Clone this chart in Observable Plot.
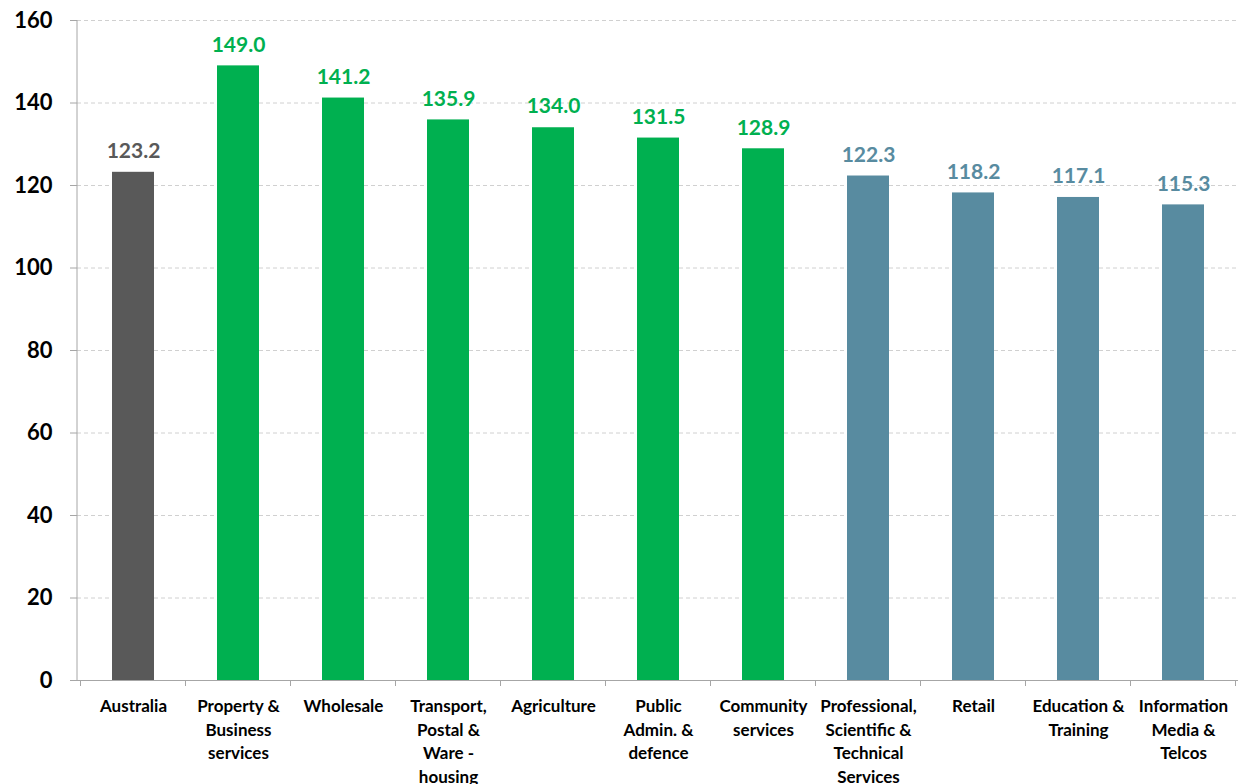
<!DOCTYPE html>
<html>
<head>
<meta charset="utf-8">
<script src="https://cdn.jsdelivr.net/npm/d3@7"></script>
<script src="https://cdn.jsdelivr.net/npm/@observablehq/plot@0.6"></script>
<style>
  html, body { margin: 0; padding: 0; background: #fff; }
</style>
</head>
<body>
<div id="chart"></div>
<script>
const categories = ["Australia", "Property & Business services", "Wholesale", "Transport, Postal & Ware - housing", "Agriculture", "Public Admin. & defence", "Community services", "Professional, Scientific & Technical Services", "Retail", "Education & Training", "Information Media & Telcos"];
const tickLabels = ["Australia", "Property &\nBusiness\nservices", "Wholesale", "Transport,\nPostal &\nWare -\nhousing", "Agriculture", "Public\nAdmin. &\ndefence", "Community\nservices", "Professional,\nScientific &\nTechnical\nServices", "Retail", "Education &\nTraining", "Information\nMedia &\nTelcos"];
const values = [123.2, 149.0, 141.2, 135.9, 134.0, 131.5, 128.9, 122.3, 118.2, 117.1, 115.3];
const groups = ["Australia", "High", "High", "High", "High", "High", "High", "Low", "Low", "Low", "Low"];
const yTicks = [0, 20, 40, 60, 80, 100, 120, 140, 160];

const data = categories.map((c, i) => ({category: c, value: values[i], group: groups[i]}));
const labelOf = new Map(categories.map((c, i) => [c, tickLabels[i]]));

const axisGray = "#a6a6a6";

const boundaryTicks = (index, scales, values, dimensions) => {
  const x = scales.x;
  const step = x.step();
  const bw = x.bandwidth();
  const g = d3.create("svg:g");
  const y0 = dimensions.height - dimensions.marginBottom;
  const xs = categories.map(c => x(c) - (step - bw) / 2);
  xs.push(x(categories[categories.length - 1]) + bw + (step - bw) / 2);
  for (const xv of xs) {
    g.append("line")
      .attr("x1", xv).attr("x2", xv)
      .attr("y1", y0).attr("y2", y0 + 6)
      .attr("stroke", axisGray);
  }
  g.append("line")
    .attr("x1", dimensions.marginLeft).attr("x2", dimensions.marginLeft)
    .attr("y1", dimensions.marginTop).attr("y2", y0)
    .attr("stroke", axisGray);
  return g.node();
};

const chart = Plot.plot({
  width: 1239,
  height: 784,
  marginLeft: 77,
  marginRight: 1,
  marginTop: 20,
  marginBottom: 104,
  style: {fontFamily: "Lato, 'Open Sans', sans-serif", background: "#fff"},
  x: {domain: categories, paddingInner: 0.6, paddingOuter: 0.3, label: null},
  y: {domain: [0, 160], label: null},
  color: {domain: ["Australia", "High", "Low"], range: ["#595959", "#00B050", "#588BA0"]},
  marks: [
    Plot.gridY(yTicks.filter(d => d > 0), {stroke: "#d0d0d0", strokeOpacity: 1, strokeDasharray: "4,3"}),
    Plot.barY(data, {x: "category", y: "value", fill: "group"}),
    Plot.text(data, {x: "category", y: "value", text: d => d.value.toFixed(1), fill: "group", dy: -21, fontSize: 21, fontWeight: "bold"}),
    Plot.ruleY([0], {stroke: axisGray}),
    Plot.axisY(yTicks, {tickSize: 7, tickPadding: 18, fontSize: 22, fontWeight: "bold", stroke: axisGray, fill: "#000", label: null}),
    Plot.axisX({tickSize: 0, tickPadding: 15, tickFormat: d => labelOf.get(d), fontSize: 17, fontWeight: "bold", lineHeight: 1.38, fill: "#000", label: null}),
    boundaryTicks
  ]
});
document.getElementById("chart").append(chart);
</script>
</body>
</html>
